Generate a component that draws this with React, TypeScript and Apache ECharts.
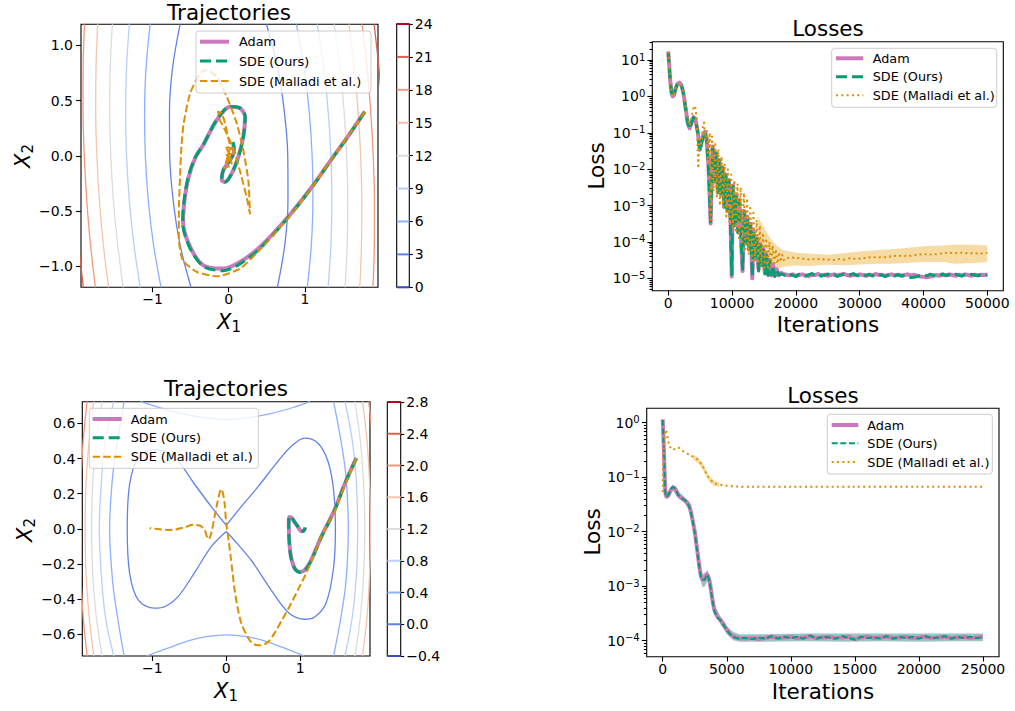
import React, { useEffect, useRef } from 'react';
import * as echarts from 'echarts';

const FONT = 'DejaVu Sans';
const PINK = '#cc78bc';
const GREEN = '#029e73';
const ORANGE = '#de8f05';
const MINUS = '\u2212';

// ---------------- Top-left: contours of the quadratic ----------------
const TL_LEVELS = [0, 3, 6, 9, 12, 15, 18, 21, 24];
const TL_LEVEL_COLORS = ['#3b4cc0', '#6282ea', '#8db0fe', '#b8d0f9', '#dddcdc', '#f5c4ac', '#f4987a', '#dd604c', '#b40426'];
const TL_CONTOUR_Y = [1.19, 0.8, 0.4, 0, -0.4, -0.8, -1.19];
const TL_C3_L = [-0.639, -0.737, -0.778, -0.775, -0.73, -0.641, -0.496];
const TL_C3_R = [0.496, 0.641, 0.73, 0.775, 0.778, 0.737, 0.639];
const TL_C6_L = [-1.032, -1.085, -1.105, -1.095, -1.057, -0.989, -0.889];
const TL_C6_R = [0.889, 0.989, 1.057, 1.095, 1.105, 1.085, 1.032];
const TL_C9_L = [-1.305, -1.342, -1.354, -1.342, -1.306, -1.246, -1.162];
const TL_C9_R = [1.162, 1.246, 1.306, 1.342, 1.354, 1.342, 1.305];
const TL_C12_L = [-1.528, -1.556, -1.563, -1.549, -1.515, -1.46, -1.385];
const TL_C12_R = [1.385, 1.46, 1.515, 1.549, 1.563, 1.556, 1.528];
const TL_C15_L = [-1.721, -1.743, -1.747, -1.732, -1.699, -1.647, -1.578];
const TL_C15_R = [1.578, 1.647, 1.699, 1.732, 1.747, 1.743, 1.721];
const TL_C18_L = [-1.894, -1.912, -1.913, -1.897, -1.865, -1.816, -1.751];
const TL_C18_R = [1.751, 1.816, 1.865, 1.897, 1.913, 1.912, 1.894];
const TL_C21_L = [-2.052, -2.067, -2.066, -2.049, -2.018, -1.971, -1.909];
const TL_C21_R = [1.909, 1.971, 2.018, 2.049, 2.066, 2.067, 2.052];

const TL_ADAM = [[1.786, 0.399], [1.58, 0.19], [1.371, -0.009], [1.109, -0.266], [0.76, -0.568], [0.41, -0.825], [0.148, -0.961], [-0.07, -1.021], [-0.333, -0.991], [-0.507, -0.825], [-0.6, -0.6], [-0.58, -0.4], [-0.53, -0.2], [-0.44, -0.02], [-0.333, 0.1], [-0.157, 0.324], [0.017, 0.444], [0.148, 0.43], [0.214, 0.354], [0.191, 0.172], [0.126, -0.009], [0.039, -0.16], [-0.048, -0.236], [-0.092, -0.22], [-0.071, -0.13], [0.017, -0.039], [0.07, 0.04], [0.06, 0.11]];
const TL_SDE = [[1.786, 0.399], [1.58, 0.188], [1.371, -0.012], [1.109, -0.27], [0.76, -0.575], [0.41, -0.84], [0.148, -0.978], [-0.07, -1.04], [-0.333, -1.0], [-0.51, -0.835], [-0.605, -0.6], [-0.585, -0.4], [-0.535, -0.2], [-0.445, -0.02], [-0.335, 0.1], [-0.157, 0.326], [0.017, 0.446], [0.15, 0.432], [0.216, 0.354], [0.192, 0.17], [0.126, -0.012], [0.038, -0.162], [-0.048, -0.238], [-0.094, -0.222], [-0.072, -0.13], [0.016, -0.04], [0.072, 0.045], [0.058, 0.125]];
const TL_MALLADI = [[1.786, 0.399], [1.58, 0.19], [1.371, -0.009], [1.109, -0.27], [0.76, -0.58], [0.41, -0.85], [0.15, -1.02], [-0.157, -1.091], [-0.42, -1.05], [-0.603, -0.946], [-0.655, -0.75], [-0.655, -0.5], [-0.64, -0.2], [-0.62, 0.1], [-0.59, 0.3], [-0.507, 0.566], [-0.376, 0.747], [-0.288, 0.777], [-0.157, 0.716], [-0.026, 0.535], [0.105, 0.294], [0.191, 0.052], [0.257, -0.22], [0.279, -0.522], [0.23, -0.36], [0.16, -0.17], [0.07, 0.05], [-0.04, 0.22], [-0.12, 0.33], [-0.14, 0.4], [-0.09, 0.38], [-0.04, 0.27], [0.0, 0.14], [0.04, 0.06], [-0.04, 0.09], [0.03, -0.03], [-0.05, 0.0], [0.05, 0.02], [-0.02, -0.07], [0.02, 0.07], [-0.06, -0.11], [0.04, -0.08], [0.0, 0.03]];

// ---------------- Bottom-left: double-well contours ----------------
const BL_LEVELS = [-0.4, 0.0, 0.4, 0.8, 1.2, 1.6, 2.0, 2.4, 2.8];
const BL_LEVEL_COLORS = ['#3b4cc0', '#6282ea', '#8db0fe', '#b8d0f9', '#dddcdc', '#f5c4ac', '#f4987a', '#dd604c', '#b40426'];
const BL_C0_RIGHT = [[0, 0.02], [0.2, 0.125], [0.43, 0.24], [0.7, 0.385], [0.88, 0.47], [1.06, 0.516], [1.24, 0.487], [1.375, 0.383], [1.45, 0.22], [1.475, 0.0], [1.45, -0.22], [1.35, -0.42], [1.2, -0.5], [1.06, -0.514], [0.85, -0.48], [0.61, -0.35], [0.34, -0.18], [0.14, -0.08], [0, -0.015]];
const BL_C0_LEFT = [[0, -0.015], [-0.2, -0.1], [-0.43, -0.25], [-0.65, -0.385], [-0.82, -0.44], [-0.97, -0.451], [-1.19, -0.404], [-1.306, -0.252], [-1.338, 0], [-1.306, 0.252], [-1.19, 0.404], [-0.97, 0.451], [-0.82, 0.44], [-0.65, 0.385], [-0.43, 0.255], [-0.2, 0.125], [0, 0.02]];
const BL_C04_TOP = [[-1.16, 0.724], [-0.9, 0.69], [-0.6, 0.655], [-0.3, 0.632], [0, 0.622], [0.3, 0.632], [0.6, 0.655], [0.9, 0.69], [1.13, 0.724]];
const BL_C04_BOTTOM = [[-1.08, -0.723], [-0.8, -0.68], [-0.5, -0.635], [-0.25, -0.612], [0, -0.603], [0.25, -0.612], [0.5, -0.635], [0.8, -0.68], [1.05, -0.723]];
const BL_C04_L = [[-1.38, 0.724], [-1.47, 0.5], [-1.535, 0.3], [-1.576, 0], [-1.535, -0.3], [-1.47, -0.5], [-1.38, -0.723]];
const BL_C04_R = [[1.45, 0.724], [1.55, 0.5], [1.617, 0.3], [1.649, 0], [1.617, -0.3], [1.55, -0.5], [1.45, -0.723]];
const BL_C08_L = [[-1.52, 0.724], [-1.633, 0.5], [-1.69, 0.25], [-1.715, 0], [-1.69, -0.25], [-1.633, -0.5], [-1.52, -0.723]];
const BL_C08_R = [[1.605, 0.724], [1.703, 0.5], [1.76, 0.25], [1.775, 0], [1.76, -0.25], [1.703, -0.5], [1.605, -0.723]];
const BL_C12_L = [[-1.676, 0.724], [-1.756, 0.5], [-1.805, 0.25], [-1.819, 0], [-1.805, -0.25], [-1.756, -0.5], [-1.676, -0.723]];
const BL_C12_R = [[1.738, 0.724], [1.812, 0.5], [1.857, 0.25], [1.871, 0], [1.857, -0.25], [1.812, -0.5], [1.738, -0.723]];
const BL_C16_L = [[-1.79, 0.724], [-1.852, 0.5], [-1.895, 0.25], [-1.906, 0], [-1.895, -0.25], [-1.852, -0.5], [-1.79, -0.723]];
const BL_C16_R = [[1.841, 0.724], [1.902, 0.5], [1.937, 0.25], [1.948, 0], [1.937, -0.25], [1.902, -0.5], [1.841, -0.723]];
const BL_C20_L = [[-1.88, 0.724], [-1.933, 0.5], [-1.965, 0.25], [-1.978, 0], [-1.965, -0.25], [-1.933, -0.5], [-1.88, -0.723]];
const BL_C20_R = [[1.925, 0.724], [1.976, 0.5], [2.0, 0.25]];

const BL_ADAM = [[1.757, 0.402], [1.6, 0.255], [1.464, 0.108], [1.284, -0.044], [1.149, -0.176], [1.06, -0.235], [1.0, -0.245], [0.93, -0.228], [0.875, -0.16], [0.852, -0.07], [0.845, 0.02], [0.852, 0.068], [0.885, 0.062], [0.93, 0.035], [0.968, 0.013], [1.01, -0.012], [1.04, -0.013], [1.06, -0.003], [1.066, 0.008]];
const BL_SDE = [[1.757, 0.402], [1.6, 0.254], [1.464, 0.106], [1.284, -0.047], [1.149, -0.18], [1.06, -0.238], [1.0, -0.247], [0.93, -0.23], [0.873, -0.16], [0.85, -0.07], [0.843, 0.02], [0.85, 0.07], [0.884, 0.063], [0.93, 0.034], [0.968, 0.012], [1.01, -0.013], [1.04, -0.014], [1.058, -0.003], [1.064, 0.008]];
const BL_MALLADI = [[1.757, 0.402], [1.6, 0.245], [1.464, 0.1], [1.284, -0.044], [1.17, -0.167], [1.059, -0.271], [0.97, -0.345], [0.878, -0.423], [0.75, -0.52], [0.653, -0.593], [0.56, -0.645], [0.473, -0.662], [0.4, -0.66], [0.338, -0.645], [0.27, -0.6], [0.203, -0.537], [0.15, -0.44], [0.113, -0.347], [0.085, -0.25], [0.059, -0.157], [0.03, -0.06], [0.0, 0.032], [-0.023, 0.146], [-0.045, 0.203], [-0.068, 0.226], [-0.09, 0.205], [-0.12, 0.15], [-0.149, 0.089], [-0.203, -0.025], [-0.239, -0.059], [-0.265, -0.04], [-0.293, -0.006], [-0.36, 0.019], [-0.45, 0.023], [-0.563, 0.009], [-0.743, -0.006], [-0.9, -0.002], [-1.036, 0.004]];

// ---------------- Top-right losses (log10 of loss) ----------------
const TR_ADAM_HEAD = [[0, 1.23], [150, 0.85], [300, 0.45], [500, 0.12], [700, 0.0], [900, 0.03], [1100, 0.18], [1400, 0.33], [1750, 0.38], [2050, 0.31], [2350, 0.12], [2700, -0.3], [3050, -0.72], [3350, -0.88], [3650, -0.72], [3950, -0.57], [4250, -0.62], [4600, -0.95], [4950, -1.47], [5250, -1.25], [5500, -1.05], [5750, -0.97], [6000, -1.15], [6300, -1.9], [6500, -2.8], [6640, -3.49], [6800, -2.3], [6950, -1.38], [7250, -2.3], [7500, -1.55], [7750, -2.6], [8000, -1.75], [8250, -2.7], [8500, -1.95], [8750, -3.0], [9000, -2.15], [9250, -3.1], [9500, -2.3], [9750, -3.4], [9950, -4.95], [10150, -2.45], [10400, -3.5], [10650, -2.7], [10900, -3.7], [11150, -2.85], [11400, -3.9], [11650, -4.8], [11900, -3.15], [12150, -4.0], [12400, -3.3], [12650, -4.2], [12900, -3.5], [13170, -5.0], [13400, -3.7], [13650, -4.4], [13900, -3.9], [14150, -4.75], [14400, -4.05], [14650, -4.6], [14900, -4.2], [15150, -4.85], [15400, -4.35], [15650, -4.9], [15900, -4.5], [16150, -4.92], [16400, -4.62], [16700, -4.93], [17000, -4.75], [17300, -4.92], [17700, -4.85]];
const TR_ADAM_FLOOR = [-4.88, -4.9, -4.92, -4.89, -4.93, -4.91, -4.89, -4.92, -4.94, -4.9, -4.91, -4.88, -4.92, -4.9, -4.93, -4.91, -4.89, -4.92, -4.9, -4.88, -4.91, -4.93, -4.9, -4.92, -4.89, -4.91, -4.93, -4.9, -4.92, -4.88, -4.91, -4.9, -4.93, -4.91, -4.89, -4.92, -4.9, -4.93, -4.91, -4.89, -4.92, -4.9, -4.93, -4.95, -4.96, -4.97, -4.95, -4.93, -4.91, -4.93, -4.9, -4.92, -4.89, -4.91, -4.93, -4.9, -4.92, -4.89, -4.91, -4.93, -4.9, -4.92, -4.9, -4.91, -4.9];
const TR_SDE_HEAD = [[0, 1.22], [150, 0.84], [300, 0.44], [500, 0.11], [700, -0.01], [900, 0.03], [1100, 0.18], [1400, 0.33], [1750, 0.38], [2050, 0.31], [2350, 0.11], [2700, -0.31], [3050, -0.73], [3350, -0.89], [3650, -0.73], [3950, -0.58], [4250, -0.63], [4600, -0.97], [4950, -1.5], [5250, -1.26], [5500, -1.06], [5750, -0.98], [6000, -1.17], [6300, -1.95], [6500, -2.85], [6640, -3.45], [6800, -2.35], [6950, -1.4], [7250, -2.35], [7500, -1.57], [7750, -2.65], [8000, -1.77], [8250, -2.75], [8500, -1.97], [8750, -3.05], [9000, -2.17], [9250, -3.15], [9500, -2.32], [9750, -3.45], [9950, -4.9], [10150, -2.47], [10400, -3.55], [10650, -2.72], [10900, -3.75], [11150, -2.87], [11400, -3.95], [11650, -4.75], [11900, -3.17], [12150, -4.05], [12400, -3.32], [12650, -4.25], [12900, -3.52], [13170, -4.95], [13400, -3.72], [13650, -4.45], [13900, -3.92], [14150, -4.8], [14400, -4.07], [14650, -4.65], [14900, -4.22], [15150, -4.88], [15400, -4.37], [15650, -4.92], [15900, -4.52], [16150, -4.9], [16400, -4.65], [16700, -4.95], [17000, -4.78], [17300, -4.9], [17700, -4.88]];
const TR_SDE_FLOOR = [-4.9, -4.93, -4.88, -4.92, -4.95, -4.89, -4.91, -4.94, -4.9, -4.87, -4.92, -4.9, -4.94, -4.91, -4.88, -4.93, -4.9, -4.95, -4.91, -4.89, -4.92, -4.9, -4.87, -4.91, -4.94, -4.9, -4.92, -4.89, -4.93, -4.9, -4.88, -4.92, -4.95, -4.91, -4.89, -4.93, -4.9, -4.92, -4.94, -4.96, -4.98, -4.97, -4.95, -4.92, -4.9, -4.93, -4.89, -4.91, -4.94, -4.9, -4.88, -4.92, -4.9, -4.93, -4.89, -4.91, -4.94, -4.9, -4.92, -4.89, -4.91, -4.93, -4.9, -4.92, -4.91];
const TR_MAL_HEAD = [[0, 1.23], [150, 0.85], [300, 0.45], [500, 0.12], [700, 0.0], [900, 0.03], [1100, 0.18], [1400, 0.33], [1750, 0.38], [2050, 0.31], [2350, 0.12], [2700, -0.25], [3050, -0.62], [3350, -0.8], [3650, -0.55], [3950, -0.32], [4200, -0.26], [4450, -0.6], [4700, -1.98], [4900, -1.1], [5150, -1.3], [5400, -0.85], [5600, -0.72], [5850, -1.2], [6050, -0.95], [6250, -1.9], [6500, -1.0], [6650, -3.4], [6850, -1.1], [7100, -2.6], [7350, -1.25], [7600, -2.75], [7850, -1.45], [8100, -3.0], [8350, -1.65], [8600, -3.1], [8850, -1.85], [9100, -3.3], [9350, -2.0], [9600, -3.45], [9850, -2.15], [10100, -3.65], [10350, -2.3], [10600, -3.75], [10850, -2.4], [11100, -3.9], [11350, -2.5], [11600, -4.0], [11850, -2.65], [12100, -4.2], [12350, -2.8], [12600, -4.35], [12850, -3.0], [13100, -4.45], [13350, -3.2], [13600, -4.55], [13850, -3.4], [14100, -4.6], [14350, -3.55], [14600, -4.65], [14850, -3.75], [15100, -4.7], [15350, -3.9], [15600, -4.7], [15850, -4.0], [16100, -4.7], [16350, -4.1], [16600, -4.65], [16850, -4.2], [17100, -4.6], [17350, -4.28], [17600, -4.55], [17850, -4.35], [18100, -4.5]];
const TR_MAL_FLOOR = [-4.42, -4.45, -4.43, -4.46, -4.44, -4.47, -4.45, -4.48, -4.46, -4.49, -4.47, -4.5, -4.47, -4.49, -4.47, -4.5, -4.48, -4.46, -4.49, -4.47, -4.45, -4.47, -4.44, -4.46, -4.43, -4.45, -4.42, -4.44, -4.41, -4.43, -4.4, -4.42, -4.39, -4.41, -4.38, -4.4, -4.37, -4.39, -4.36, -4.38, -4.35, -4.37, -4.34, -4.36, -4.33, -4.35, -4.32, -4.34, -4.31, -4.33, -4.3, -4.32, -4.29, -4.31, -4.28, -4.3, -4.32, -4.29, -4.31, -4.33, -4.3, -4.32, -4.29, -4.31];
const TR_MAL_BAND_X = [14000, 15000, 16000, 17000, 18000, 20000, 22000, 25000, 28000, 30000, 33000, 35000, 38000, 40000, 43000, 45000, 48000, 50000];
const TR_MAL_BAND_LO = [-4.75, -4.8, -4.8, -4.75, -4.68, -4.65, -4.66, -4.63, -4.64, -4.62, -4.6, -4.6, -4.57, -4.55, -4.55, -4.6, -4.58, -4.55];
const TR_MAL_BAND_HI = [-3.3, -3.6, -3.9, -4.1, -4.22, -4.3, -4.32, -4.35, -4.3, -4.26, -4.22, -4.2, -4.15, -4.12, -4.1, -4.07, -4.08, -4.1];

// ---------------- Bottom-right losses (log10 of loss) ----------------
const BR_ADAM_HEAD = [[0, 0.06], [100, -0.55], [200, -1.25], [300, -1.36], [450, -1.33], [600, -1.25], [800, -1.19], [1000, -1.22], [1200, -1.32], [1450, -1.38], [1700, -1.42], [1900, -1.46], [2100, -1.55], [2300, -1.75], [2500, -2.0], [2700, -2.35], [2900, -2.7], [3050, -2.86], [3250, -2.88], [3450, -2.78], [3650, -2.9], [3850, -3.2], [4050, -3.45], [4300, -3.57], [4550, -3.63], [4800, -3.72], [5050, -3.81], [5300, -3.88], [5600, -3.93], [5900, -3.95], [6200, -3.96]];
const BR_ADAM_FLOOR = [-3.96, -3.95, -3.97, -3.95, -3.93, -3.95, -3.94, -3.93, -3.95, -3.94, -3.92, -3.95, -3.94, -3.93, -3.95, -3.94, -3.93, -3.97, -3.94, -3.93, -3.95, -3.94, -3.93, -3.95, -3.94, -3.93, -3.95, -3.94, -3.93, -3.95, -3.94, -3.93, -3.95, -3.94, -3.93, -3.95, -3.94, -3.93];
const BR_SDE_HEAD = [[0, 0.05], [100, -0.56], [200, -1.26], [300, -1.36], [450, -1.32], [600, -1.24], [800, -1.18], [1000, -1.22], [1200, -1.32], [1450, -1.38], [1700, -1.42], [1900, -1.47], [2100, -1.56], [2300, -1.76], [2500, -2.02], [2700, -2.37], [2900, -2.72], [3050, -2.87], [3250, -2.88], [3450, -2.79], [3650, -2.92], [3850, -3.22], [4050, -3.46], [4300, -3.58], [4550, -3.64], [4800, -3.73], [5050, -3.82], [5300, -3.89], [5600, -3.94], [5900, -3.96], [6200, -3.95]];
const BR_SDE_FLOOR = [-3.95, -3.97, -3.94, -3.96, -3.92, -3.96, -3.93, -3.95, -3.93, -3.96, -3.91, -3.96, -3.93, -3.94, -3.96, -3.92, -3.95, -3.98, -3.93, -3.95, -3.94, -3.96, -3.92, -3.96, -3.93, -3.95, -3.93, -3.96, -3.92, -3.95, -3.94, -3.92, -3.96, -3.93, -3.95, -3.93, -3.95, -3.94];
const BR_MAL = [[0, -1.27], [60, -0.6], [250, -0.13], [500, -0.4], [780, -0.5], [1000, -0.47], [1180, -0.455], [1500, -0.51], [2090, -0.59], [2740, -0.68], [3135, -0.81], [3527, -0.99], [3919, -1.09], [4180, -1.12], [4963, -1.156], [5747, -1.172], [7000, -1.175], [10000, -1.175], [15000, -1.175], [20000, -1.175], [25000, -1.175]];
const BR_SDE_BAND_X = [200, 400, 800, 1200, 1700, 2100, 2500, 2900, 3100, 3300, 3500, 3800, 4100, 4500, 5000, 5500, 6000, 8000, 11000, 14000, 17000, 20000, 23000, 25000];
const BR_SDE_BAND_LO = [-1.31, -1.4, -1.25, -1.38, -1.48, -1.62, -2.08, -2.85, -3.02, -3.0, -2.9, -3.2, -3.53, -3.7, -3.88, -3.99, -4.02, -4.02, -4.01, -4.02, -4.01, -4.02, -4.01, -4.01];
const BR_SDE_BAND_HI = [-1.2, -1.28, -1.13, -1.26, -1.36, -1.48, -1.92, -2.6, -2.78, -2.76, -2.7, -3.0, -3.37, -3.55, -3.73, -3.84, -3.88, -3.88, -3.87, -3.87, -3.87, -3.87, -3.87, -3.87];
const BR_MAL_BAND_X = [2400, 2800, 3200, 3600, 4000, 4400];
const BR_MAL_BAND_LO = [-0.68, -0.75, -0.89, -1.08, -1.16, -1.18];
const BR_MAL_BAND_HI = [-0.58, -0.65, -0.77, -0.96, -1.06, -1.1];

// ---------------- ticks ----------------
const TL_XTICKS = [-1, 0, 1];
const TL_YTICKS = [-1, -0.5, 0, 0.5, 1];
const BL_XTICKS = [-1, 0, 1];
const BL_YTICKS = [-0.6, -0.4, -0.2, 0, 0.2, 0.4, 0.6];
const TR_XTICKS = [0, 10000, 20000, 30000, 40000, 50000];
const TR_YTICKS = [-5, -4, -3, -2, -1, 0, 1];
const BR_XTICKS = [0, 5000, 10000, 15000, 20000, 25000];
const BR_YTICKS = [-4, -3, -2, -1, 0];
const MINOR_MULTS = [2, 3, 4, 5, 6, 7, 8, 9];

const zip = (xs: number[], ys: number[]) => xs.map((x, i) => [x, ys[i]]);
const withFloor = (head: number[][], start: number, step: number, vals: number[]) =>
  head.concat(vals.map((v, i) => [start + i * step, v]));
const minorTicks = (lo: number, hi: number) => {
  const out: number[] = [];
  for (let d = Math.floor(lo) - 1; d <= Math.ceil(hi); d++) {
    MINOR_MULTS.forEach((m) => {
      const v = d + Math.log10(m);
      if (v > lo && v < hi) out.push(v);
    });
  }
  return out;
};
const fmt = (d: number) => (v: number) => {
  const s = Math.abs(v).toFixed(d);
  return (v < -1e-9 ? MINUS : '') + s;
};
const fmtLog = (v: number) => {
  const k = Math.round(v);
  return '10{s|' + (k < 0 ? MINUS : '') + Math.abs(k) + '}';
};

const AXLINE = { show: false, onZero: false };
const TICK = (vals: number[], len = 4.9) => ({ show: true, customValues: vals, length: len, inside: false, lineStyle: { color: '#000', width: 1.1 } });
const LABEL = (vals: number[], formatter: any, margin = 7, extra: any = {}) => ({
  show: true, customValues: vals, formatter, color: '#000', fontSize: 14, fontFamily: FONT, margin, ...extra,
});

function lineS(ax: number, data: any[], color: string, width: number, dash: any, z: number, smooth: any = false) {
  return {
    type: 'line', xAxisIndex: ax, yAxisIndex: ax, data, symbol: 'none', showSymbol: false, smooth,
    silent: true, z, clip: true,
    lineStyle: { color, width, type: dash || 'solid', cap: 'butt', join: 'round' },
  };
}
function bandS(ax: number, xs: number[], lo: number[], hi: number[], fill: string, z: number) {
  return {
    type: 'custom', xAxisIndex: ax, yAxisIndex: ax, silent: true, z, clip: true,
    data: [[xs[0], lo[0]]],
    renderItem: (_p: any, api: any) => {
      const pts: number[][] = [];
      for (let i = 0; i < xs.length; i++) pts.push(api.coord([xs[i], hi[i]]));
      for (let i = xs.length - 1; i >= 0; i--) pts.push(api.coord([xs[i], lo[i]]));
      return { type: 'polygon', shape: { points: pts }, style: { fill } };
    },
  };
}
function colorbarS(ax: number, levels: number[], colors: string[]) {
  return {
    type: 'custom', xAxisIndex: ax, yAxisIndex: ax, silent: true, z: 3,
    data: levels.map((l) => [0.5, l]),
    renderItem: (p: any, api: any) => {
      const a = api.coord([0, api.value(1)]);
      const b = api.coord([1, api.value(1)]);
      return { type: 'line', shape: { x1: a[0], y1: a[1], x2: b[0], y2: b[1] }, style: { stroke: colors[p.dataIndex], lineWidth: 2 } };
    },
  };
}

function legend(x: number, y: number, w: number, h: number, lx0: number, lx1: number, tx: number, ys: number[], styles: any[]) {
  const names = ['Adam', 'SDE (Ours)', 'SDE (Malladi et al.)'];
  const els: any[] = [{
    type: 'rect', z: 100, shape: { x, y, width: w, height: h, r: 3 },
    style: { fill: 'rgba(255,255,255,0.8)', stroke: '#cccccc', lineWidth: 1 },
  }];
  names.forEach((n, i) => {
    els.push({ type: 'line', z: 101, shape: { x1: lx0, y1: ys[i], x2: lx1, y2: ys[i] }, style: { lineCap: 'butt', ...styles[i] } });
    els.push({ type: 'text', z: 101, x: tx, y: ys[i], style: { text: n, fontSize: 12.8, fontFamily: FONT, fill: '#000', align: 'left', verticalAlign: 'middle' } });
  });
  return els;
}
function txt(x: number, y: number, text: string, size: number, rot = 0) {
  return { type: 'text', z: 101, x, y, rotation: rot, style: { text, fontSize: size, fontFamily: FONT, fill: '#000', align: 'center', verticalAlign: 'middle' } };
}
function mathLabel(x: number, y: number, sub: string, rot = 0) {
  return {
    type: 'text', z: 101, x, y, rotation: rot,
    style: {
      text: '{i|X}{s|' + sub + '}', align: 'center', verticalAlign: 'middle', fill: '#000',
      rich: {
        i: { fontSize: 21, fontFamily: FONT, fontStyle: 'italic', fill: '#000' },
        s: { fontSize: 15, fontFamily: FONT, fill: '#000', padding: [9, 0, 0, 0] },
      },
    },
  };
}

export default function App() {
  const ref = useRef<HTMLDivElement>(null);
  useEffect(() => {
    if (!ref.current) return;
    const chart = echarts.init(ref.current, undefined, { renderer: 'svg' });
    const grids = [
      { left: 81, top: 24.3, width: 297, height: 263 },
      { left: 396.7, top: 24, width: 12.6, height: 263.3 },
      { left: 652.3, top: 41.7, width: 351, height: 249 },
      { left: 82.3, top: 401.7, width: 287.7, height: 254.3 },
      { left: 387.3, top: 402, width: 13.4, height: 254 },
      { left: 646.7, top: 408.3, width: 352.3, height: 248.4 },
    ].map((g) => ({ ...g, show: true, borderColor: '#000', borderWidth: 1.1, backgroundColor: 'transparent', containLabel: false }));

    const xAxis: any[] = [
      { gridIndex: 0, type: 'value', min: -1.94, max: 1.96, axisLine: AXLINE, splitLine: { show: false }, axisTick: TICK(TL_XTICKS), axisLabel: LABEL(TL_XTICKS, fmt(0), 5) },
      { gridIndex: 1, type: 'value', min: 0, max: 1, show: false },
      { gridIndex: 2, type: 'value', min: -2500, max: 52500, axisLine: AXLINE, splitLine: { show: false }, axisTick: TICK(TR_XTICKS), axisLabel: LABEL(TR_XTICKS, (v: number) => String(v), 5) },
      { gridIndex: 3, type: 'value', min: -1.945, max: 1.942, axisLine: AXLINE, splitLine: { show: false }, axisTick: TICK(BL_XTICKS), axisLabel: LABEL(BL_XTICKS, fmt(0), 5) },
      { gridIndex: 4, type: 'value', min: 0, max: 1, show: false },
      { gridIndex: 5, type: 'value', min: -1250, max: 26250, axisLine: AXLINE, splitLine: { show: false }, axisTick: TICK(BR_XTICKS), axisLabel: LABEL(BR_XTICKS, (v: number) => String(v), 5) },
    ];
    const logRich = { s: { fontSize: 10, fontFamily: FONT, color: '#000', verticalAlign: 'top', padding: [0, 0, 6, 0] } };
    const yAxis: any[] = [
      { gridIndex: 0, type: 'value', position: 'left', min: -1.19, max: 1.19, axisLine: AXLINE, splitLine: { show: false }, axisTick: TICK(TL_YTICKS), axisLabel: LABEL(TL_YTICKS, fmt(1), 8) },
      { gridIndex: 1, type: 'value', position: 'right', min: 0, max: 24, axisLine: AXLINE, splitLine: { show: false }, axisTick: TICK(TL_LEVELS, 3.5), axisLabel: LABEL(TL_LEVELS, fmt(0), 5.5) },
      { gridIndex: 2, type: 'value', position: 'left', min: -5.34, max: 1.503, axisLine: AXLINE, splitLine: { show: false }, axisTick: TICK(TR_YTICKS), axisLabel: LABEL(TR_YTICKS, fmtLog, 7, { rich: logRich }) },
      { gridIndex: 3, type: 'value', position: 'left', min: -0.723, max: 0.723, axisLine: AXLINE, splitLine: { show: false }, axisTick: TICK(BL_YTICKS), axisLabel: LABEL(BL_YTICKS, fmt(1), 7) },
      { gridIndex: 4, type: 'value', position: 'right', min: -0.4, max: 2.8, axisLine: AXLINE, splitLine: { show: false }, axisTick: TICK(BL_LEVELS, 3.5), axisLabel: LABEL(BL_LEVELS, fmt(1), 5.5) },
      { gridIndex: 5, type: 'value', position: 'left', min: -4.294, max: 0.264, axisLine: AXLINE, splitLine: { show: false }, axisTick: TICK(BR_YTICKS), axisLabel: LABEL(BR_YTICKS, fmtLog, 7, { rich: logRich }) },
      { gridIndex: 2, type: 'value', position: 'left', offset: 0, min: -5.34, max: 1.503, axisLine: AXLINE, splitLine: { show: false }, axisTick: TICK(minorTicks(-5.34, 1.503), 2.8), axisLabel: { show: false } },
      { gridIndex: 5, type: 'value', position: 'left', offset: 0, min: -4.294, max: 0.264, axisLine: AXLINE, splitLine: { show: false }, axisTick: TICK(minorTicks(-4.294, 0.264), 2.8), axisLabel: { show: false } },
    ];

    const series: any[] = [];
    const tlPairs: [number[], number[], number][] = [
      [TL_C3_L, TL_C3_R, 1], [TL_C6_L, TL_C6_R, 2], [TL_C9_L, TL_C9_R, 3], [TL_C12_L, TL_C12_R, 4],
      [TL_C15_L, TL_C15_R, 5], [TL_C18_L, TL_C18_R, 6], [TL_C21_L, TL_C21_R, 7],
    ];
    tlPairs.forEach(([l, r, ci]) => {
      series.push(lineS(0, zip(l, TL_CONTOUR_Y), TL_LEVEL_COLORS[ci], 1.3, null, 1, 0.35));
      series.push(lineS(0, zip(r, TL_CONTOUR_Y), TL_LEVEL_COLORS[ci], 1.3, null, 1, 0.35));
    });
    series.push(lineS(0, TL_ADAM, PINK, 4, null, 3, 0.3));
    series.push(lineS(0, TL_SDE, GREEN, 3, [11, 5], 4, 0.3));
    series.push(lineS(0, TL_MALLADI, ORANGE, 2, [7.4, 3.2], 5, 0.2));
    series.push(colorbarS(1, TL_LEVELS, TL_LEVEL_COLORS));

    const blSets: [number[][], number][] = [
      [BL_C0_RIGHT, 1], [BL_C0_LEFT, 1],
      [BL_C04_TOP, 2], [BL_C04_BOTTOM, 2], [BL_C04_L, 2], [BL_C04_R, 2],
      [BL_C08_L, 3], [BL_C08_R, 3], [BL_C12_L, 4], [BL_C12_R, 4],
      [BL_C16_L, 5], [BL_C16_R, 5], [BL_C20_L, 6], [BL_C20_R, 6],
    ];
    blSets.forEach(([d, ci]) => series.push(lineS(3, d, BL_LEVEL_COLORS[ci], 1.3, null, 1, 0.35)));
    series.push(lineS(3, BL_ADAM, PINK, 4, null, 3, 0.3));
    series.push(lineS(3, BL_SDE, GREEN, 3, [11, 5], 4, 0.3));
    series.push(lineS(3, BL_MALLADI, ORANGE, 2, [7.4, 3.2], 5, 0.3));
    series.push(colorbarS(4, BL_LEVELS, BL_LEVEL_COLORS));

    series.push(bandS(2, TR_MAL_BAND_X, TR_MAL_BAND_LO, TR_MAL_BAND_HI, 'rgba(240,190,90,0.55)', 1));
    series.push(lineS(2, withFloor(TR_ADAM_HEAD, 18000, 500, TR_ADAM_FLOOR), PINK, 4, null, 3));
    series.push(lineS(2, withFloor(TR_SDE_HEAD, 18000, 500, TR_SDE_FLOOR), GREEN, 3, [11, 5], 4));
    series.push(lineS(2, withFloor(TR_MAL_HEAD, 18500, 500, TR_MAL_FLOOR), ORANGE, 2, [2, 3.3], 5));

    series.push(bandS(5, BR_SDE_BAND_X, BR_SDE_BAND_LO, BR_SDE_BAND_HI, 'rgba(95,155,150,0.6)', 1));
    series.push(bandS(5, BR_MAL_BAND_X, BR_MAL_BAND_LO, BR_MAL_BAND_HI, 'rgba(240,190,90,0.55)', 1));
    series.push(lineS(5, withFloor(BR_ADAM_HEAD, 6500, 500, BR_ADAM_FLOOR), PINK, 4, null, 3, 0.3));
    series.push(lineS(5, withFloor(BR_SDE_HEAD, 6500, 500, BR_SDE_FLOOR), GREEN, 2, [6, 2.6], 4, 0.3));
    series.push(lineS(5, BR_MAL, ORANGE, 2, [2, 3.3], 5, 0.3));

    const styAdam = { stroke: PINK, lineWidth: 4 };
    const graphic: any[] = [
      ...legend(196, 31, 175, 62, 200, 229, 239, [41.7, 61, 81], [styAdam, { stroke: GREEN, lineWidth: 3, lineDash: [11, 5] }, { stroke: ORANGE, lineWidth: 2, lineDash: [7.4, 3.2] }]),
      ...legend(831.7, 48.3, 165, 59, 836, 863.3, 872.7, [58.3, 76.7, 95.3], [styAdam, { stroke: GREEN, lineWidth: 3, lineDash: [11, 5] }, { stroke: ORANGE, lineWidth: 2, lineDash: [2, 3.3] }]),
      ...legend(89.3, 408.3, 169, 60, 92.7, 121.7, 130.7, [419, 437.7, 456.7], [styAdam, { stroke: GREEN, lineWidth: 3, lineDash: [11, 5] }, { stroke: ORANGE, lineWidth: 2, lineDash: [7.4, 3.2] }]),
      ...legend(827.3, 414.3, 165, 59.7, 831.7, 858.3, 867.3, [425, 443.3, 462], [styAdam, { stroke: GREEN, lineWidth: 2, lineDash: [6, 2.6] }, { stroke: ORANGE, lineWidth: 2, lineDash: [2, 3.3] }]),
      txt(229, 12, 'Trajectories', 21.5),
      txt(226, 388, 'Trajectories', 21.5),
      txt(828, 28, 'Losses', 21.5),
      txt(823, 395, 'Losses', 21.5),
      txt(828, 324, 'Iterations', 21.5),
      txt(823, 691, 'Iterations', 21.5),
      txt(596, 166, 'Loss', 21.5, Math.PI / 2),
      txt(592, 532, 'Loss', 21.5, Math.PI / 2),
      mathLabel(229, 322, '1'),
      mathLabel(226, 691, '1'),
      mathLabel(23, 156, '2', Math.PI / 2),
      mathLabel(25, 530, '2', Math.PI / 2),
    ];

    chart.setOption({
      animation: false,
      backgroundColor: '#ffffff',
      grid: grids,
      xAxis,
      yAxis,
      series,
      graphic,
    });
    return () => chart.dispose();
  }, []);
  return <div ref={ref} style={{ position: 'fixed', left: 0, top: 0, width: 1015, height: 711 }} />;
}
